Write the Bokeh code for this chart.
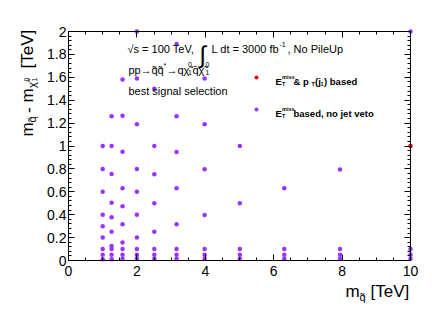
import math
from bokeh.plotting import figure
from bokeh.models import Range1d, LinearAxis, FixedTicker, Label, Legend, LegendItem
from bokeh.core.properties import value
from bokeh.embed import file_html
from bokeh.resources import INLINE

# ---------------- data ----------------
purple_msq = [1.0, 1.0, 1.0, 1.0, 1.0, 1.0, 1.0, 1.0, 1.0,
              1.26, 1.26, 1.26, 1.26, 1.26, 1.26, 1.26, 1.26, 1.26, 1.26,
              1.58, 1.58, 1.58, 1.58, 1.58, 1.58, 1.58, 1.58, 1.58, 1.58,
              2.0, 2.0, 2.0, 2.0, 2.0, 2.0, 2.0, 2.0, 2.0, 2.0,
              2.51, 2.51, 2.51, 2.51, 2.51, 2.51, 2.51, 2.51,
              3.16, 3.16, 3.16, 3.16, 3.16, 3.16, 3.16, 3.16,
              3.98, 3.98, 3.98, 3.98, 3.98, 3.98, 3.98,
              5.01, 5.01, 5.01, 5.01, 5.01,
              6.31, 6.31, 6.31, 6.31,
              7.94, 7.94, 7.94, 7.94,
              10.0, 10.0, 10.0, 10.0]
purple_dm = [1.0, 0.8, 0.6, 0.4, 0.3, 0.2, 0.1, 0.05, 0.01,
             1.26, 1.0, 0.755, 0.505, 0.378, 0.252, 0.126, 0.1, 0.05, 0.01,
             1.58, 1.265, 0.95, 0.632, 0.474, 0.316, 0.158, 0.1, 0.05, 0.015,
             2.0, 1.59, 1.19, 0.8, 0.6, 0.4, 0.2, 0.1, 0.05, 0.015,
             1.5, 1.0, 0.754, 0.5, 0.252, 0.1, 0.05, 0.015,
             1.89, 1.26, 0.948, 0.632, 0.316, 0.1, 0.05, 0.015,
             1.59, 1.19, 0.797, 0.397, 0.1, 0.05, 0.015,
             1.0, 0.5, 0.1, 0.05, 0.015,
             0.632, 0.1, 0.05, 0.015,
             0.794, 0.1, 0.05, 0.015,
             2.0, 0.1, 0.05, 0.015]
red_msq = [10.0]
red_dm = [1.0]

x_lim = (0, 10)
y_lim = (0, 2)
x_ticks = [0, 2, 4, 6, 8, 10]
x_minor = [0.5 * i for i in range(21)]
y_ticks = [0.0, 0.2, 0.4, 0.6, 0.8, 1.0, 1.2, 1.4, 1.6, 1.8, 2.0]
y_tick_labels = ["0", "0.2", "0.4", "0.6", "0.8", "1", "1.2", "1.4", "1.6", "1.8", "2"]
y_minor = [0.04 * i for i in range(51)]

PURPLE = "#9933ff"
RED = "#e00000"
FONT = "Liberation Sans"

# ---------------- layout ----------------
W, H = 432, 310
FL, FR, FT, FB = 68, 410, 31, 260      # axes box in canvas pixels
sx = (FR - FL) / (x_lim[1] - x_lim[0])
sy = (FB - FT) / (y_lim[1] - y_lim[0])
xr = Range1d(x_lim[0] - FL / sx, x_lim[1] + (W - FR) / sx)
yr = Range1d(y_lim[0] - (H - FB) / sy, y_lim[1] + FT / sy)

p = figure(width=W, height=H, x_range=xr, y_range=yr,
           x_axis_type=None, y_axis_type=None,
           output_backend="svg", toolbar_location=None,
           min_border_left=0, min_border_right=0, min_border_top=0, min_border_bottom=0)
p.outline_line_color = None
p.background_fill_color = "white"
p.border_fill_color = "white"

xt = FixedTicker(ticks=x_ticks, minor_ticks=x_minor)
yt = FixedTicker(ticks=y_ticks, minor_ticks=y_minor)

def make_axis(ticker, loc, bounds, labels=True):
    ax = LinearAxis(ticker=ticker, fixed_location=loc, bounds=bounds)
    ax.major_tick_in = 6
    ax.major_tick_out = 0
    ax.minor_tick_in = 3
    ax.minor_tick_out = 0
    ax.axis_line_color = "black"
    ax.major_tick_line_color = "black"
    ax.minor_tick_line_color = "black"
    if labels:
        ax.major_label_text_font = FONT
        ax.major_label_text_font_size = "14px"
        ax.major_label_text_color = "black"
    else:
        ax.major_label_text_font_size = "0px"
        ax.major_label_text_color = None
        ax.major_label_standoff = 0
    return ax

bottom = make_axis(xt, y_lim[0], x_lim)
bottom.major_label_standoff = 5
p.add_layout(bottom, "below")
left = make_axis(yt, x_lim[0], y_lim)
left.major_label_standoff = 2
left.major_label_overrides = {t: s for t, s in zip(y_ticks, y_tick_labels)}
p.add_layout(left, "left")
p.add_layout(make_axis(xt, y_lim[1], x_lim, labels=False), "above")
p.add_layout(make_axis(yt, x_lim[1], y_lim, labels=False), "right")

rp = p.scatter(purple_msq, purple_dm, size=4.5, marker="circle", fill_color=PURPLE, line_color=None)
rr = p.scatter(red_msq, red_dm, size=4.5, marker="circle", fill_color=RED, line_color=None)

# legend: glyph swatches only (rich labels are drawn as texts below)
leg = Legend(items=[LegendItem(label=value(" "), renderers=[rr]),
                    LegendItem(label=value(" "), renderers=[rp])],
             location=(251, H - 114), glyph_width=10, glyph_height=10, label_height=10,
             label_width=1, label_standoff=0, spacing=22, padding=0, margin=0,
             border_line_color=None, background_fill_alpha=0,
             label_text_font_size="2px")
p.add_layout(leg, "center")

# ---------------- texts (canvas pixel coordinates, y down) ----------------
def txt(s, px, py, size, bold=False, angle=0.0, font=FONT):
    p.add_layout(Label(x=px, y=H - py, x_units="screen", y_units="screen",
                       text=s, text_font=font, text_font_size=f"{size}px",
                       text_font_style="bold" if bold else "normal",
                       text_baseline="alphabetic", text_align="left",
                       angle=angle, text_color="black"))

# line 1
txt("\u221as = 100 TeV,", 127, 48.5, 11)
txt("\u222b", 199, 54, 24)
txt("L dt = 3000 fb", 211, 48.5, 11)
txt("-1", 279, 44, 7)
txt(", No PileUp", 287, 48.5, 11)
# line 2
txt("pp\u2192", 128, 69.5, 11)
txt("q\u0303q\u0303", 151, 69.5, 11)
txt("*", 163, 65, 7)
txt("\u2192q\u03c7\u0303", 166, 69.5, 11)
txt("0", 187.5, 64, 7)
txt("1", 187.5, 72, 7)
txt("q\u0304\u03c7\u0303", 192, 69.5, 11)
txt("0", 205, 64, 7)
txt("1", 205, 72, 7)
# line 3
txt("best signal selection", 128, 90, 11)

# legend texts
txt("E", 275, 81, 9.5, bold=True)
txt("miss", 281.5, 76.5, 5.5, bold=True)
txt("T", 281.5, 83, 5.5, bold=True)
txt(" & p", 293, 81, 9.5, bold=True)
txt("T", 311, 83, 5.5, bold=True)
txt("(j", 314.5, 81, 9.5, bold=True)
txt("1", 320, 83, 5.5, bold=True)
txt(") based", 323.5, 81, 9.5, bold=True)

txt("E", 275, 113, 9.5, bold=True)
txt("miss", 281.5, 108.5, 5.5, bold=True)
txt("T", 281.5, 115, 5.5, bold=True)
txt(" based, no jet veto", 293, 113, 9.5, bold=True)

# x axis title
txt("m", 345, 291, 17)
txt("q\u0303", 359, 296, 11)
txt("[TeV]", 370, 291, 17)

# y axis title (rotated)
A = math.pi / 2
txt("m", 27, 136, 17, angle=A)
txt("q\u0303", 31, 122, 11, angle=A)
txt("-", 27, 112.5, 17, angle=A)
txt("m", 27, 102, 17, angle=A)
txt("\u03c7\u0303", 31, 87.5, 11, angle=A)
txt("0", 26, 81, 7, angle=A)
txt("1", 34, 81, 7, angle=A)
txt("[TeV]", 27, 68, 17, angle=A)

open("out.html", "w").write(file_html(p, INLINE))
